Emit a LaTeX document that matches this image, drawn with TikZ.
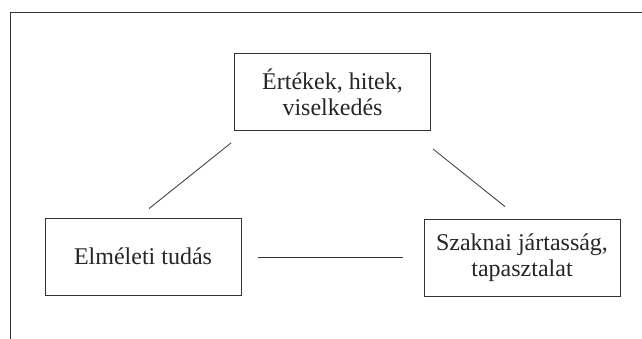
\documentclass[tikz,border=0pt]{standalone}
\usepackage{fontspec}
\setmainfont{Liberation Serif}
\usepackage{xcolor}
\usetikzlibrary{calc}

\tikzset{
    conceptbox/.style={draw=black!80, line width=0.8pt, minimum width=196pt, minimum height=77pt,
        inner sep=0pt, align=center, text=black!85, font=\fontsize{24}{26}\selectfont},
    link/.style={black!80, line width=0.8pt}
}

\begin{document}
\begin{tikzpicture}[x=1pt, y=-1pt]
            \useasboundingbox (0,0) rectangle (642,339);

            % Frame
            \draw[link] (642,12) -- (10,12) -- (10,339);

            % Boxes
            \node[conceptbox] (values) at (332.5,92) {Értékek, hitek,\\viselkedés};
            \node[conceptbox] (theory) at (143,256.5) {Elméleti tudás};
            \node[conceptbox] (practice) at (522,257.5) {Szaknai jártasság,\\tapasztalat};

            % Links
            \draw[link] ($(values.south west)+(-3,12)$) -- ($(theory.north)+(6,-9)$);
            \draw[link] ($(values.south east)+(2,18)$) -- ($(practice.north)+(-17,-12)$);
            \draw[link] ($(theory.east)+(17,1)$) -- ($(practice.west)+(-21,0)$);
        \end{tikzpicture}
\end{document}
